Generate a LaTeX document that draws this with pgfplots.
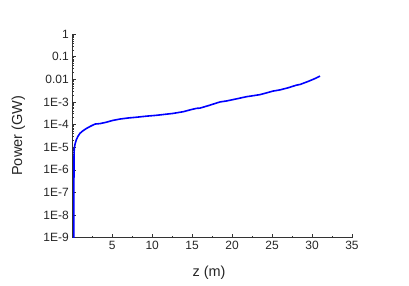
\documentclass[border=0pt]{standalone}
\usepackage{fontspec}
\setmainfont{Liberation Sans}
\usepackage{pgfplots}
\pgfplotsset{compat=1.18}
\begin{document}
\begin{tikzpicture}
\useasboundingbox (-72.3pt,-47.3pt) rectangle (336.7pt,237.7pt);
\begin{axis}[
  scale only axis,
  width=279.7pt, height=203.7pt,
  ymode=log,
  xmin=0, xmax=35,
  ymin=1e-9, ymax=1,
  axis lines=left,
  axis line style={-, black!80, line width=0.6pt},
  tick align=inside,
  major tick length=4pt,
  minor tick length=2pt,
  tick style={black!80, line width=0.5pt},
  xtick={5,10,...,35},
  minor xtick={2.5,7.5,...,32.5},
  ytick={1e-9,1e-8,1e-7,1e-6,1e-5,1e-4,1e-3,1e-2,1e-1,1},
  yticklabels={1E-9,1E-8,1E-7,1E-6,1E-5,1E-4,1E-3,0.01,0.1,1},
  xticklabels={5,10,15,20,25,30,35},
  /pgf/number format/assume math mode=true,
  ticklabel style={font=\fontsize{12}{13}\selectfont, text=black!85},
  yticklabel style={xshift=0pt},
  xticklabel style={yshift=0pt},
  xlabel={z (m)},
  ylabel={Power (GW)},
  every axis x label/.style={at={(axis description cs:0.489,-0.172)}, anchor=center, font=\fontsize{14.5}{16}\selectfont, text=black!85},
  every axis y label/.style={at={(axis description cs:-0.193,0.5)}, rotate=90, anchor=center, font=\fontsize{14.5}{16}\selectfont, text=black!85},
  clip=true,
]
\addplot[color={rgb,255:red,0;green,0;blue,255}, line width=1.6pt, line join=round] coordinates {
(0.20,1e-10) (0.20,1e-7) (0.21,1e-6) (0.22,5e-6) (0.25,9e-6) (0.35,1.4e-5)
(0.5,2.1e-5) (0.7,3.0e-5) (0.96,4.1e-5) (1.3,5.2e-5) (1.8,6.8e-5) (2.3,8.5e-5)
(2.84,1.05e-4) (3.46,1.1e-4) (4.2,1.25e-4) (5.0,1.5e-4) (5.96,1.75e-4) (7.0,1.95e-4)
(8.0,2.1e-4) (9.3,2.35e-4) (10.5,2.55e-4) (11.5,2.8e-4) (12.6,3.1e-4) (13.9,3.7e-4)
(14.8,4.5e-4) (15.55,5.2e-4) (15.96,5.3e-4) (17.0,6.8e-4) (18.0,8.8e-4) (18.5,1.0e-3)
(19.3,1.1e-3) (20.5,1.35e-3) (21.8,1.7e-3) (22.5,1.85e-3) (23.5,2.1e-3) (24.3,2.5e-3)
(25.1,3.0e-3) (26.0,3.4e-3) (27.0,4.2e-3) (28.05,5.5e-3) (28.5,5.9e-3) (29.5,8.0e-3)
(30.3,1.05e-2) (31.0,1.38e-2)
};
\end{axis}
\end{tikzpicture}
\end{document}
